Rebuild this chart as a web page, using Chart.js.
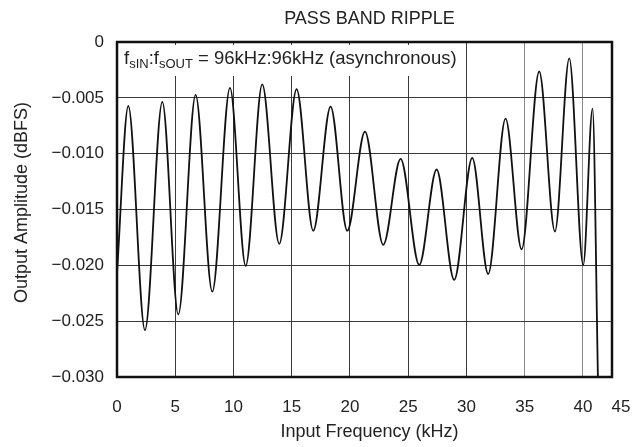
<!DOCTYPE html>
<html>
<head>
<meta charset="utf-8">
<script src="https://cdn.jsdelivr.net/npm/chart.js@4"></script>
<style>
  html, body { margin: 0; padding: 0; background: #fff; }
  #wrap { width: 638px; height: 447px; }
</style>
</head>
<body>
<div id="wrap"><canvas id="myChart"></canvas></div>
<script>
// values (peaks and troughs of the ripple)
var freqKHz = [0, 0.97, 2.40, 3.89, 5.26, 6.75, 8.18, 9.70, 11.05, 12.47, 13.93, 15.42, 16.85,
    18.34, 19.77, 21.29, 22.86, 24.35, 25.95, 27.44, 28.95, 30.50, 31.87, 33.36, 34.74,
    36.25, 37.60, 38.83, 40.03, 40.83, 41.30];
var amplitudeDbfs = [-0.0207, -0.00573, -0.0258, -0.00537, -0.0244, -0.00474, -0.02236, -0.00411,
    -0.02005, -0.0038, -0.01807, -0.00423, -0.0169, -0.00578, -0.0169, -0.00803, -0.01817,
    -0.01046, -0.01996, -0.01142, -0.0213, -0.01037, -0.02077, -0.00686, -0.01856, -0.00264,
    -0.01697, -0.00147, -0.01996, -0.00596, -0.0305];
var xTicks = [0, 5, 10, 15, 20, 25, 30, 35, 40, 45];
var yTicks = [0, -0.005, -0.010, -0.015, -0.020, -0.025, -0.030];
var xMax = 42.5;

var FONT = "'Liberation Sans', Arial, Helvetica, sans-serif";
Chart.defaults.font.family = FONT;
Chart.defaults.font.size = 17;
Chart.defaults.color = '#222';

var points = freqKHz.map(function (f, i) { return { x: f, y: amplitudeDbfs[i] }; });

var decorPlugin = {
    id: 'decor',
    beforeDatasetsDraw: function (chart) {
        var ctx = chart.ctx, a = chart.chartArea;
        // white box behind the condition note
        ctx.save();
        ctx.fillStyle = '#fff';
        ctx.fillRect(a.left + 1, a.top + 3, 345, 31);
        ctx.restore();
    },
    afterDraw: function (chart) {
        var ctx = chart.ctx, a = chart.chartArea;
        var mid = (a.left + a.right) / 2 + 5;
        ctx.save();
        // frame
        ctx.strokeStyle = '#111';
        ctx.lineWidth = 2.5;
        ctx.strokeRect(a.left, a.top, a.right - a.left, a.bottom - a.top);

        ctx.fillStyle = '#222';
        ctx.textAlign = 'center';
        ctx.textBaseline = 'middle';

        // title and axis titles
        ctx.font = '18px ' + FONT;
        ctx.fillText('PASS BAND RIPPLE', mid, 19);
        ctx.fillText('Input Frequency (kHz)', mid, 432);
        ctx.save();
        ctx.translate(22, (a.top + a.bottom) / 2 - 7);
        ctx.rotate(-Math.PI / 2);
        ctx.fillText('Output Amplitude (dBFS)', 0, 0);
        ctx.restore();

        // last x label that sits past the frame
        var last = xTicks[xTicks.length - 1];
        if (last > xMax) {
            ctx.font = '17px ' + FONT;
            ctx.fillText(String(last), a.right + 9, 407);
        }

        // condition note with subscripts
        ctx.textAlign = 'left';
        ctx.textBaseline = 'alphabetic';
        var x = a.left + 7, y = a.top + 22;
        var parts = [['f', 0], ['sIN', 1], [':f', 0], ['sOUT', 1], [' = 96kHz:96kHz (asynchronous)', 0]];
        parts.forEach(function (p) {
            ctx.font = (p[1] ? '13px ' : '18.5px ') + FONT;
            ctx.fillText(p[0], x, y + (p[1] ? 4 : 0));
            x += ctx.measureText(p[0]).width;
        });
        ctx.restore();
    }
};

var ctx1 = document.getElementById('myChart').getContext('2d');
var myChart = new Chart(ctx1, {
    type: 'line',
    data: {
        datasets: [{
            data: points,
            borderColor: '#111',
            borderWidth: 1.8,
            pointRadius: 0,
            fill: false,
            cubicInterpolationMode: 'monotone',
            clip: 0
        }]
    },
    plugins: [decorPlugin],
    options: {
        responsive: true,
        maintainAspectRatio: false,
        animation: false,
        layout: { padding: { top: 42, right: 26, left: 0, bottom: 0 } },
        plugins: {
            legend: { display: false },
            tooltip: { enabled: false },
            title: { display: false }
        },
        scales: {
            x: {
                type: 'linear',
                min: 0,
                max: xMax,
                afterBuildTicks: function (scale) {
                    scale.ticks = xTicks.filter(function (v) { return v <= xMax; })
                        .map(function (v) { return { value: v }; });
                },
                afterFit: function (scale) { scale.height = 70; },
                ticks: {
                    padding: 20,
                    maxRotation: 0,
                    autoSkip: false,
                    color: '#222',
                    callback: function (v) { return String(v); }
                },
                grid: {
                    drawTicks: false,
                    color: function (c) { return c.tick && c.tick.value >= 35 ? '#8a8a8a' : '#3a3a3a'; },
                    lineWidth: 1
                },
                border: { display: false }
            },
            y: {
                min: -0.030,
                max: 0,
                afterBuildTicks: function (scale) {
                    scale.ticks = yTicks.map(function (v) { return { value: v }; });
                },
                afterFit: function (scale) { scale.width = 117; },
                ticks: {
                    padding: 13,
                    color: '#222',
                    callback: function (v) {
                        if (Math.abs(v) < 1e-9) return '0';
                        return '\u2212' + Math.abs(v).toFixed(3);
                    }
                },
                grid: {
                    drawTicks: false,
                    color: '#3a3a3a',
                    lineWidth: 1
                },
                border: { display: false }
            }
        }
    }
});
</script>
</body>
</html>
